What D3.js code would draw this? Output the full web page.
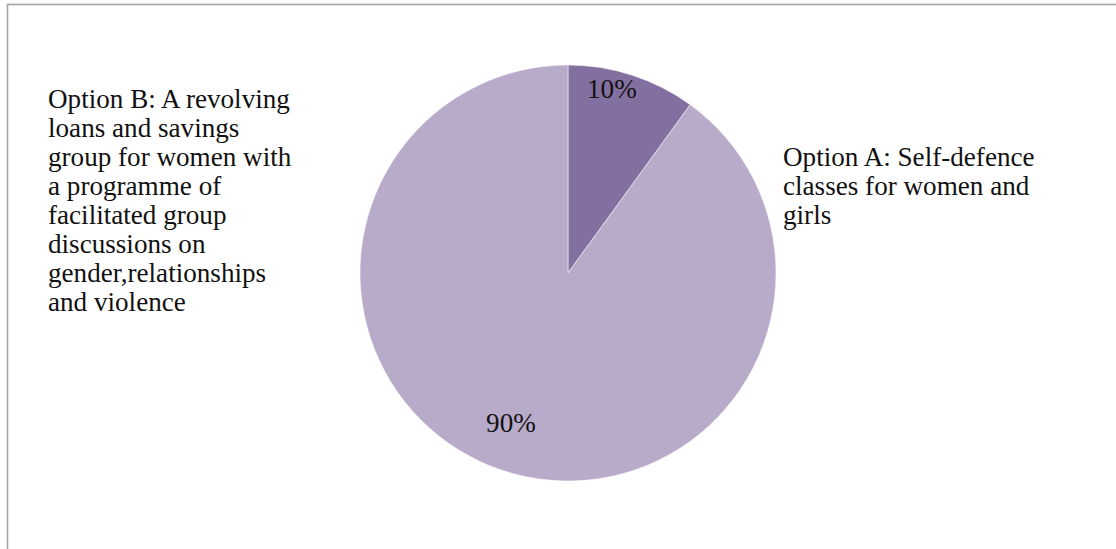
<!DOCTYPE html>
<html>
<head>
<meta charset="utf-8">
<script src="https://cdn.jsdelivr.net/npm/d3@7"></script>
<style>
  html, body { margin: 0; padding: 0; background: #fff; }
  svg { display: block; }
</style>
</head>
<body>
<div id="chart"></div>
<script>
// Survey result: preferred programme option
const categories = ["Option A: Self-defence classes for women and girls",
                    "Option B: A revolving loans and savings group for women with a programme of facilitated group discussions on gender,relationships and violence"];
const shares = [10, 90];
const valueLabels = ["10%", "90%"];
const colors = ["#8470a0", "#b8aac9"];

// Category labels broken into lines as laid out beside the pie
const labelLinesA = ["Option A: Self-defence", "classes for women and", "girls"];
const labelLinesB = ["Option B: A revolving", "loans and savings", "group for women with",
                     "a programme of", "facilitated group", "discussions on",
                     "gender,relationships", "and violence"];

const W = 1116, H = 549;
const cx = 568, cy = 273, R = 208;
const fontFamily = "'Liberation Serif', 'DejaVu Serif', serif";

const svg = d3.select("#chart").append("svg")
  .attr("width", W).attr("height", H);

// outer chart frame (runs off the right and bottom edge)
svg.append("rect")
  .attr("x", 7.5).attr("y", 4.5)
  .attr("width", W + 20).attr("height", H + 20)
  .attr("fill", "none")
  .attr("stroke", "#a3a3a3")
  .attr("stroke-width", 1.6);

const pie = d3.pie().sort(null).value(d => d);
const arcs = pie(shares);
const arc = d3.arc().innerRadius(0).outerRadius(R);

const g = svg.append("g").attr("transform", `translate(${cx},${cy})`);

g.selectAll("path.slice")
  .data(arcs)
  .join("path")
  .attr("class", "slice")
  .attr("d", arc)
  .attr("fill", (d, i) => colors[i])
  .attr("stroke", "#ffffff")
  .attr("stroke-opacity", 0.5)
  .attr("stroke-width", 1);

// fit the body font so the first line of the left label spans its column
const probe = svg.append("text")
  .attr("font-family", fontFamily).attr("font-size", 20)
  .text(labelLinesB[0]);
const probeW = probe.node().getComputedTextLength();
probe.remove();
const fs = 20 * 242 / probeW;

// percentage labels placed inside each slice
const labelRadius = [0.91, 0.77];
const labelAngleShift = [-0.08, 0.05];
g.selectAll("text.pct")
  .data(arcs)
  .join("text")
  .attr("class", "pct")
  .attr("x", (d, i) => {
    const a = (d.startAngle + d.endAngle) / 2 + labelAngleShift[i];
    return Math.sin(a) * R * labelRadius[i];
  })
  .attr("y", (d, i) => {
    const a = (d.startAngle + d.endAngle) / 2 + labelAngleShift[i];
    return -Math.cos(a) * R * labelRadius[i];
  })
  .attr("text-anchor", "middle")
  .attr("dominant-baseline", "central")
  .attr("font-family", fontFamily)
  .attr("font-size", fs)
  .attr("fill", "#111")
  .text((d, i) => valueLabels[i]);

const lineH = 29;
function block(lines, x, y0) {
  svg.append("g").selectAll("text")
    .data(lines)
    .join("text")
    .attr("x", x)
    .attr("y", (d, i) => y0 + i * lineH)
    .attr("font-family", fontFamily)
    .attr("font-size", fs)
    .attr("fill", "#111")
    .text(d => d);
}
block(labelLinesB, 48, 108);
block(labelLinesA, 783, 166);
</script>
</body>
</html>
